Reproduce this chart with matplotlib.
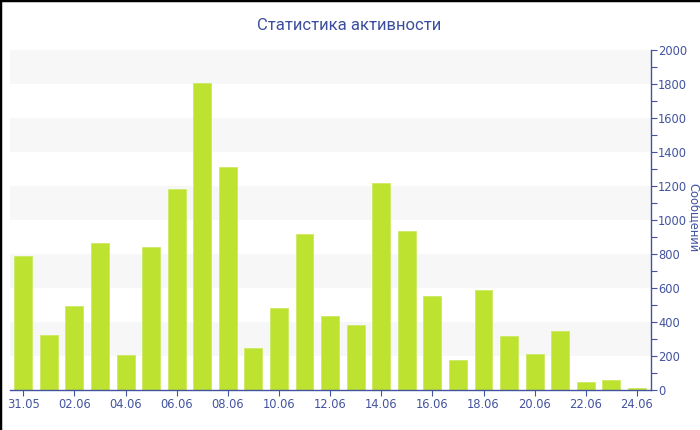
import matplotlib
matplotlib.use("Agg")
import matplotlib.pyplot as plt
from matplotlib.ticker import MultipleLocator
from matplotlib.lines import Line2D

dates = ["31.05", "01.06", "02.06", "03.06", "04.06", "05.06", "06.06", "07.06",
         "08.06", "09.06", "10.06", "11.06", "12.06", "13.06", "14.06", "15.06",
         "16.06", "17.06", "18.06", "19.06", "20.06", "21.06", "22.06", "23.06", "24.06"]
messages = [788, 325, 492, 865, 206, 841, 1180, 1804, 1310, 245, 482, 916, 435,
            384, 1220, 933, 551, 176, 586, 316, 214, 345, 47, 59, 12]

title = "Статистика активности"
ylabel = "Сообщений"
ymax = 2000
band = 200

text_color = "#4253a0"
title_color = "#3c4f9e"
bar_color = "#bde230"
band_color = "#f7f7f7"

fig = plt.figure(figsize=(7, 4.3), dpi=100)
W, H = 700, 430
ax = fig.add_axes([10 / W, 1 - 390 / H, (651 - 10) / W, (390 - 50) / H])

x = list(range(len(dates)))
ax.set_xlim(-0.52, len(dates) - 1 + 0.55)
ax.set_ylim(0, ymax)

# alternating bands
for lo in range(band, ymax, 2 * band):
    ax.axhspan(lo, lo + band, color=band_color, zorder=0, lw=0)

ax.bar(x, messages, width=0.7, color=bar_color, edgecolor="#cdea62", linewidth=0.6, zorder=2)

ax.yaxis.tick_right()
ax.yaxis.set_label_position("right")
ax.yaxis.set_major_locator(MultipleLocator(200))
ax.yaxis.set_minor_locator(MultipleLocator(100))
ax.set_xticks(x[::2])
ax.set_xticklabels(dates[::2])

for s in ["top", "left"]:
    ax.spines[s].set_visible(False)
for s in ["right", "bottom"]:
    ax.spines[s].set_color(text_color)
    ax.spines[s].set_linewidth(1.0)

ax.tick_params(axis="both", colors=text_color, labelcolor=text_color, labelsize=8.3)
ax.tick_params(axis="y", which="major", length=4, width=0.8, pad=1)
ax.tick_params(axis="y", which="minor", length=4, width=0.8, colors=text_color)
ax.tick_params(axis="x", which="major", length=4, width=0.8, pad=2)

fig.text(349 / W, 1 - 25 / H, title, ha="center", va="center", fontsize=12,
         family=["Roboto", "DejaVu Sans"], color=title_color)
fig.text(694 / W, 1 - 218 / H, ylabel, ha="center", va="center", rotation=270,
         fontsize=8.3, color=text_color)

# border on top and left edges
fig.add_artist(Line2D([0, 0], [0, 1], transform=fig.transFigure, color="black", lw=2.5))
fig.add_artist(Line2D([0, 1], [1, 1], transform=fig.transFigure, color="black", lw=2.5))

fig.savefig("out.png", dpi=100)
